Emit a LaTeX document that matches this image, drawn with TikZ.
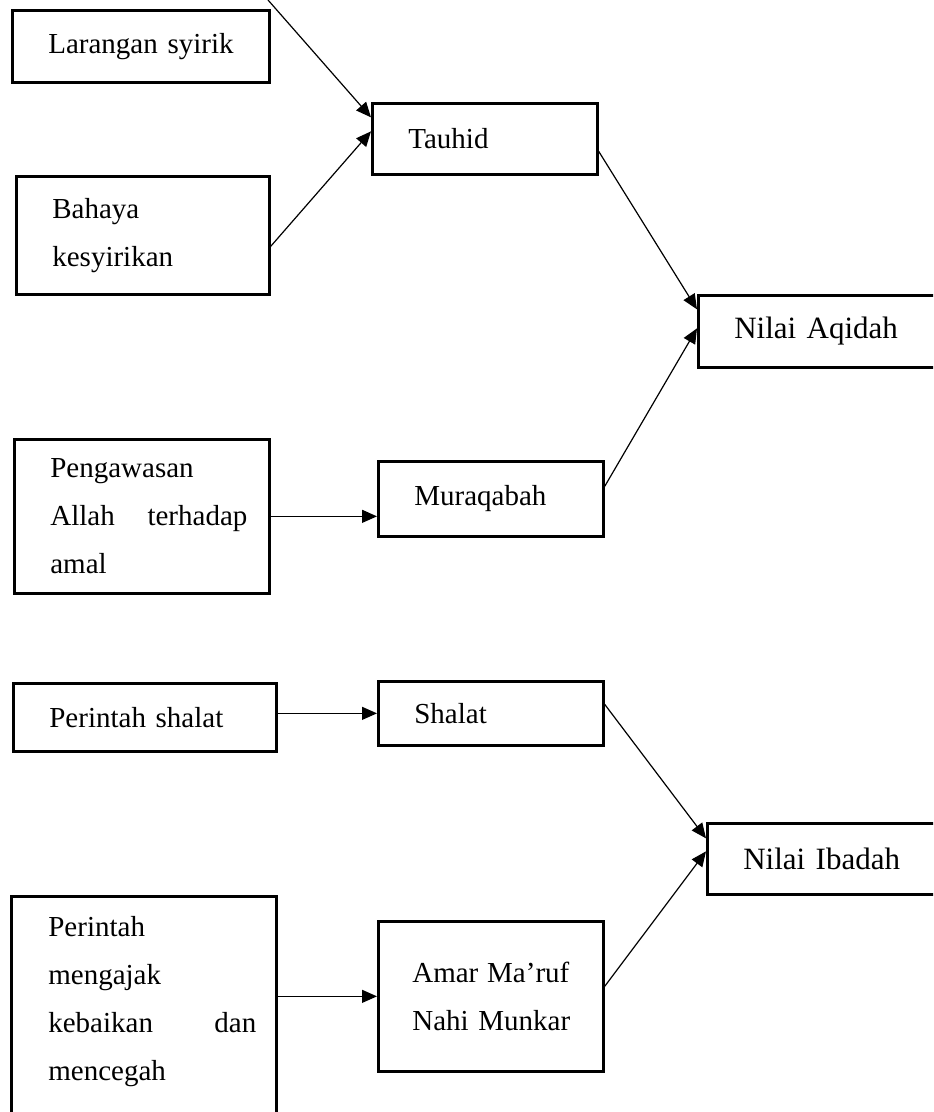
\documentclass[tikz,border=0pt]{standalone}
\usepackage{fontspec}
\setmainfont{Liberation Serif}
\usetikzlibrary{arrows.meta, calc, positioning}

\begin{document}
\begin{tikzpicture}[x=0.5pt, y=-0.5pt]
            \useasboundingbox (0,0) rectangle (933,1112);
            \clip (0,0) rectangle (933,1112);
            \begin{scope}[font=\fontsize{14.5pt}{24pt}\selectfont]
            \tikzstyle{every node}=[draw, line width=1.35pt, anchor=north west, align=left, inner xsep=18pt, inner ysep=0pt]
            \tikzstyle{panah}=[line width=0.6pt, -{Triangle[length=7.5pt,width=6.5pt]}]
            \tikzstyle{nilai}=[font=\fontsize{15.5pt}{24pt}\selectfont]

            \node[text width=92.5pt, minimum height=36pt] (larangan) at (11,9) {\mbox{Larangan syirik}};
            \node[text width=90.5pt, minimum height=59pt] (bahaya) at (15,175) {Bahaya\\kesyirikan};
            \node[text width=76.5pt, minimum height=35.5pt] (tauhid) at (371,102) {Tauhid};
            \node[nilai, text width=95.5pt, minimum height=36pt] (aqidah) at (697,294) {\mbox{Nilai Aqidah}};

            \node[inner xsep=0pt, minimum height=77pt] (pengawasan) at (13,438)
                {\hspace*{18pt}\parbox{98.5pt}{Pengawasan\\Allah\hfill terhadap\\amal}\hspace*{11pt}};
            \node[text width=76.5pt, minimum height=37.5pt] (muraqabah) at (377,460) {Muraqabah};

            \node[text width=95.5pt, minimum height=34pt] (perintahshalat) at (12,682) {\mbox{Perintah shalat}};
            \node[text width=76.5pt, minimum height=32pt] (shalat) at (377,680) {Shalat};
            \node[nilai, text width=91pt, minimum height=35.5pt] (ibadah) at (706,822) {\mbox{Nilai Ibadah}};

            \node[inner xsep=0pt, inner ysep=10pt, text depth=150pt] (perintahajak) at (10,895)
                {\hspace*{18.5pt}\parbox[t]{104pt}{Perintah\\mengajak\\kebaikan\hfill dan\\mencegah}\hspace*{10pt}};
            \node[text width=78.5pt, inner xsep=17pt, minimum height=75pt] (amar) at (377,920) {Amar\hfill Ma'ruf\\\mbox{Nahi Munkar}};

            \coordinate (ujung) at (268,0);

            \draw [panah] (ujung) -- ([yshift=10.75pt]tauhid.west);
            \draw [panah] ([yshift=-5.5pt]bahaya.east) -- ([yshift=3.75pt]tauhid.west);
            \draw [panah] ([yshift=-6.25pt]tauhid.east) -- ([yshift=11pt]aqidah.west);
            \draw [panah] ([yshift=6.25pt]muraqabah.east) -- ([yshift=1.5pt]aqidah.west);
            \draw [panah] (pengawasan.east) -- (pengawasan.east -| muraqabah.west);

            \draw [panah] (shalat.west -| perintahshalat.east) -- (shalat.west);
            \draw [panah] ([yshift=4.5pt]shalat.east) -- ([yshift=10.25pt]ibadah.west);
            \draw [panah] ([yshift=5pt]amar.east) -- ([yshift=3.75pt]ibadah.west);
            \draw [panah] (amar.west -| perintahajak.east) -- (amar.west);

            \end{scope}
\end{tikzpicture}
\end{document}
